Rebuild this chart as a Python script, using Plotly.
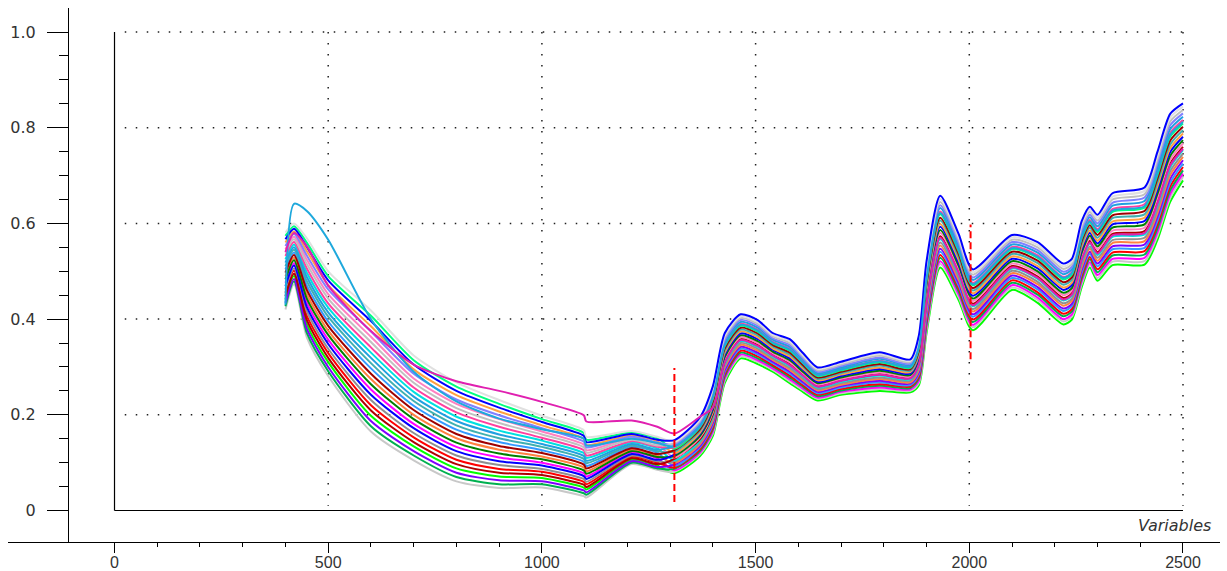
import plotly.graph_objects as go

# ---------------- data (absorbance values in thousandths) ----------------
wavelength = [400, 420, 450, 500, 600, 700, 800, 900, 1000, 1098, 1104, 1210, 1270,
              1310, 1370, 1400, 1428, 1465, 1505, 1540, 1580, 1612, 1645, 1700, 1790,
              1862, 1882, 1900, 1932, 1975, 2008, 2100, 2160, 2220, 2240, 2263, 2282,
              2300, 2335, 2410, 2440, 2470, 2500]

# visible / short-wave part: one list per wavelength, samples sorted low -> high
ab_400 = [420,427,434,441,448,455,462,469,476,483,490,497,504,511,518,525,532,539,546,553,560,567,574,581]
ab_420 = [473,479,484,490,495,501,506,512,517,523,528,534,539,545,550,556,561,567,572,578,583,589,594,600]
ab_450 = [362,371,380,389,398,407,416,425,434,443,452,461,470,479,488,497,506,515,524,533,542,551,560,569]
ab_500 = [281,291,300,310,319,329,338,348,357,367,376,386,395,405,414,424,433,443,452,462,471,481,490,500]
ab_600 = [165,176,187,198,209,220,231,242,253,264,275,286,297,308,319,330,341,352,363,374,385,396,407,418]
ab_700 = [105,115,124,134,143,153,162,172,181,191,200,210,219,229,238,248,257,267,276,286,295,305,314,324]
ab_800 = [61,70,79,88,97,106,115,124,133,142,151,160,169,178,187,196,205,214,223,232,241,250,259,268]
ab_900 = [47,55,63,71,79,87,95,103,111,119,127,135,143,151,159,167,175,183,191,199,207,215,223,231]
ab_1000 = [48,55,61,68,74,81,87,94,100,107,113,120,126,133,139,146,152,159,165,172,178,185,191,198]
ab_1098 = [30,36,42,48,54,60,66,72,78,84,90,96,102,108,114,120,126,132,138,144,150,156,162,168]
ab_1104 = [27,33,38,44,49,55,60,66,71,77,82,88,93,99,104,110,115,121,126,132,137,143,148,154]
ab_1210 = [97,100,103,106,109,112,115,118,121,124,127,130,133,136,139,142,145,148,151,154,157,160,163,166]
ab_1270 = [85,88,91,94,97,100,103,106,109,112,115,118,121,124,127,130,133,136,139,142,145,148,151,154]

# near-infrared part: one list per wavelength, samples sorted low -> high
ab_1310 = [78,81,84,87,90,93,96,99,102,105,108,111,114,117,120,123,126,129,132,135,138,141,144,147]
ab_1370 = [114,118,121,125,128,132,135,139,142,146,149,153,156,160,163,167,170,174,177,181,184,188,191,195]
ab_1400 = [156,161,165,170,174,179,183,188,192,197,201,206,210,215,219,224,228,233,237,242,246,251,255,260]
ab_1428 = [267,272,276,281,285,290,294,299,303,308,312,317,321,326,330,335,339,344,348,353,357,362,366,371]
ab_1465 = [318,322,326,330,334,338,342,346,350,354,358,362,366,370,374,378,382,386,390,394,398,402,406,410]
ab_1505 = [306,310,314,318,322,326,330,334,338,342,346,350,354,358,362,366,370,374,378,382,386,390,394,398]
ab_1540 = [290,294,297,301,304,308,311,315,318,322,325,329,332,336,339,343,346,350,353,357,360,364,367,371]
ab_1580 = [266,270,274,278,282,286,290,294,298,302,306,310,314,318,322,326,330,334,338,342,346,350,354,358]
ab_1612 = [247,251,254,258,261,265,268,272,275,279,282,286,289,293,296,300,303,307,310,314,317,321,324,328]
ab_1645 = [230,233,236,239,242,245,248,251,254,257,260,263,266,269,272,275,278,281,284,287,290,293,296,299]
ab_1700 = [242,245,248,251,254,257,260,263,266,269,272,275,278,281,284,287,290,293,296,299,302,305,308,311]
ab_1790 = [250,254,257,261,264,268,271,275,278,282,285,289,292,296,299,303,306,310,313,317,320,324,327,331]
ab_1862 = [247,250,253,256,259,262,265,268,271,274,277,280,283,286,289,292,295,298,301,304,307,310,313,316]
ab_1882 = [262,267,271,276,280,285,289,294,298,303,307,312,316,321,325,330,334,339,343,348,352,357,361,366]
ab_1900 = [371,378,384,391,397,404,410,417,423,430,436,443,449,456,462,469,475,482,488,495,501,508,514,521]
ab_1932 = [508,515,521,528,534,541,547,554,560,567,573,580,586,593,599,606,612,619,625,632,638,645,651,658]
ab_1975 = [440,446,452,458,464,470,476,482,488,494,500,506,512,518,524,530,536,542,548,554,560,566,572,578]
ab_2008 = [377,383,388,394,399,405,410,416,421,427,432,438,443,449,454,460,465,471,476,482,487,493,498,504]
ab_2100 = [461,466,471,476,481,486,491,496,501,506,511,516,521,526,531,536,541,546,551,556,561,566,571,576]
ab_2160 = [434,440,445,451,456,462,467,473,478,484,489,495,500,506,511,517,522,528,533,539,544,550,555,561]
ab_2220 = [389,395,400,406,411,417,422,428,433,439,444,450,455,461,466,472,477,483,488,494,499,505,510,516]
ab_2240 = [399,405,410,416,421,427,432,438,443,449,454,460,465,471,476,482,487,493,498,504,509,515,520,526]
ab_2263 = [467,473,479,485,491,497,503,509,515,521,527,533,539,545,551,557,563,569,575,581,587,593,599,605]
ab_2282 = [508,514,519,525,530,536,541,547,552,558,563,569,574,580,585,591,596,602,607,613,618,624,629,635]
ab_2300 = [480,486,492,498,504,510,516,522,528,534,540,546,552,558,564,570,576,582,588,594,600,606,612,618]
ab_2335 = [513,520,526,533,539,546,552,559,565,572,578,585,591,598,604,611,617,624,630,637,643,650,656,663]
ab_2410 = [514,521,528,535,542,549,556,563,570,577,584,591,598,605,612,619,626,633,640,647,654,661,668,675]
ab_2440 = [565,573,581,589,597,605,613,621,629,637,645,653,661,669,677,685,693,701,709,717,725,733,741,749]
ab_2470 = [645,653,661,669,677,685,693,701,709,717,725,733,741,749,757,765,773,781,789,797,805,813,821,829]
ab_2500 = [690,697,704,711,718,725,732,739,746,753,760,767,774,781,788,795,802,809,816,823,830,837,844,851]

# rank of each sample in the visible part (samples are ordered by their NIR level)
vis_rank = [3, 0, 8, 1, 5, 12, 2, 10, 6, 15, 4, 18, 9, 7, 20, 13, 11, 22, 16, 14, 19, 17, 23, 21]

# two outlying samples
magenta_sample = [540, 580, 552, 470, 375, 305, 270, 250, 227, 199, 186, 188, 175,
                  161, 196, 215, 310, 356, 344, 324, 304, 281, 259, 271, 284, 276, 305,
                  433, 570, 497, 429, 508, 486, 441, 451, 524, 560, 537, 575, 580, 641, 721, 756]
cyan_sample = [430, 641, 626, 566, 400, 290, 228, 192, 170, 150, 136, 150, 141,
               134, 176, 237, 346, 388, 376, 351, 336, 308, 283, 295, 312, 300, 341,
               485, 622, 545, 473, 548, 530, 486, 496, 572, 604, 585, 627, 636, 705, 785, 812]

sample_colors = ["#00ff00", "#c8c8c8", "#ff00ff", "#00b050", "#ff0000", "#3399ff",
                 "#7f00ff", "#ff8040", "#909090", "#00e0e0", "#b00000", "#ff80c0",
                 "#008000", "#0000ff", "#ffa040", "#40b0b0", "#a00000", "#00ff80",
                 "#ff40a0", "#20a0e0", "#8080ff", "#c0c0c0", "#e0e0e0", "#0000ff"]

x_ticks = [0, 500, 1000, 1500, 2000, 2500]
x_tick_labels = ["0", "500", "1000", "1500", "2000", "2500"]
x_minor = [100, 200, 300, 400, 600, 700, 800, 900, 1100, 1200, 1300, 1400, 1600, 1700,
           1800, 1900, 2100, 2200, 2300, 2400]
y_ticks = [0, 0.2, 0.4, 0.6, 0.8, 1.0]
y_tick_labels = ["0", "0.2", "0.4", "0.6", "0.8", "1.0"]
y_minor = [0.05, 0.1, 0.15, 0.25, 0.3, 0.35, 0.45, 0.5, 0.55, 0.65, 0.7, 0.75, 0.85, 0.9, 0.95]

split_x = [1310, 2003]
split_y = [[0.018, 0.298], [0.316, 0.598]]

# ---------------- figure ----------------
vis_cols = [ab_400, ab_420, ab_450, ab_500, ab_600, ab_700, ab_800, ab_900, ab_1000,
            ab_1098, ab_1104, ab_1210, ab_1270]
nir_cols = [ab_1310, ab_1370, ab_1400, ab_1428, ab_1465, ab_1505, ab_1540, ab_1580,
            ab_1612, ab_1645, ab_1700, ab_1790, ab_1862, ab_1882, ab_1900, ab_1932,
            ab_1975, ab_2008, ab_2100, ab_2160, ab_2220, ab_2240, ab_2263, ab_2282,
            ab_2300, ab_2335, ab_2410, ab_2440, ab_2470, ab_2500]

fig = go.Figure()
line_style = dict(width=2, shape="spline", smoothing=0.7)

for k in range(len(vis_rank)):
    vals = [c[vis_rank[k]] for c in vis_cols] + [c[k] for c in nir_cols]
    fig.add_trace(go.Scatter(x=wavelength, y=[v / 1000 for v in vals], mode="lines",
                             line=dict(color=sample_colors[k], **line_style),
                             hoverinfo="skip", showlegend=False))

fig.add_trace(go.Scatter(x=wavelength, y=[v / 1000 for v in cyan_sample], mode="lines",
                         line=dict(color="#1ea8dc", **line_style),
                         hoverinfo="skip", showlegend=False))
fig.add_trace(go.Scatter(x=wavelength, y=[v / 1000 for v in magenta_sample], mode="lines",
                         line=dict(color="#e020b0", **line_style),
                         hoverinfo="skip", showlegend=False))

for sx, sy in zip(split_x, split_y):
    fig.add_trace(go.Scatter(x=[sx, sx], y=sy, mode="lines",
                             line=dict(color="#ff0000", width=2, dash="7px,4px"),
                             hoverinfo="skip", showlegend=False))

shapes = []
dot = dict(color="#202020", width=1.5, dash="1.5px,9.5px")
for gy in y_ticks[1:]:
    shapes.append(dict(type="line", xref="x", yref="y", x0=24, x1=2500, y0=gy, y1=gy,
                       line=dot, layer="below"))
for gx in x_ticks[1:]:
    shapes.append(dict(type="line", xref="x", yref="y", x0=gx, x1=gx, y0=1.0, y1=0.01,
                       line=dot, layer="below"))
frame = dict(color="black", width=1.2)
shapes.append(dict(type="line", xref="x", yref="y", x0=x_ticks[0], x1=x_ticks[0],
                   y0=y_ticks[0], y1=y_ticks[-1], line=frame))
shapes.append(dict(type="line", xref="x", yref="y", x0=x_ticks[0], x1=x_ticks[-1],
                   y0=y_ticks[0], y1=y_ticks[0], line=frame))

fig.update_layout(
    width=1227, height=571,
    margin=dict(l=8, r=7, t=8, b=29, autoexpand=False),
    paper_bgcolor="white", plot_bgcolor="white",
    showlegend=False,
    font=dict(family="DejaVu Sans", size=16, color="#333333"),
    shapes=shapes,
    xaxis=dict(range=[-249.2, 2586.6], tickmode="array", tickvals=x_ticks,
               ticktext=x_tick_labels, ticks="outside", ticklen=10, tickwidth=1,
               tickcolor="black", showline=True, linecolor="black", linewidth=1,
               showgrid=False, zeroline=False, ticklabelstandoff=-4, automargin=False,
               tickfont=dict(family="Liberation Sans", size=16, color="#333333"),
               minor=dict(tickmode="array", tickvals=x_minor, ticks="outside",
                          ticklen=4, tickwidth=1, tickcolor="black", showgrid=False)),
    yaxis=dict(range=[-0.0658, 1.0502], anchor="free", position=0.0495,
               tickmode="array", tickvals=y_ticks, ticktext=y_tick_labels,
               ticks="outside", ticklen=21, tickwidth=1, tickcolor="black",
               showline=True, linecolor="black", linewidth=1, showgrid=False,
               zeroline=False, ticklabelstandoff=8, automargin=False,
               minor=dict(tickmode="array", tickvals=y_minor, ticks="outside",
                          ticklen=9, tickwidth=1, tickcolor="black", showgrid=False)),
    annotations=[dict(text="<i>Variables</i>", xref="paper", yref="paper",
                      x=0.9942, y=0.0318, xanchor="right", yanchor="middle",
                      showarrow=False, font=dict(family="DejaVu Sans", size=16,
                                                 color="#333333"))],
)

fig.write_html("out.html", config={"displayModeBar": False})
